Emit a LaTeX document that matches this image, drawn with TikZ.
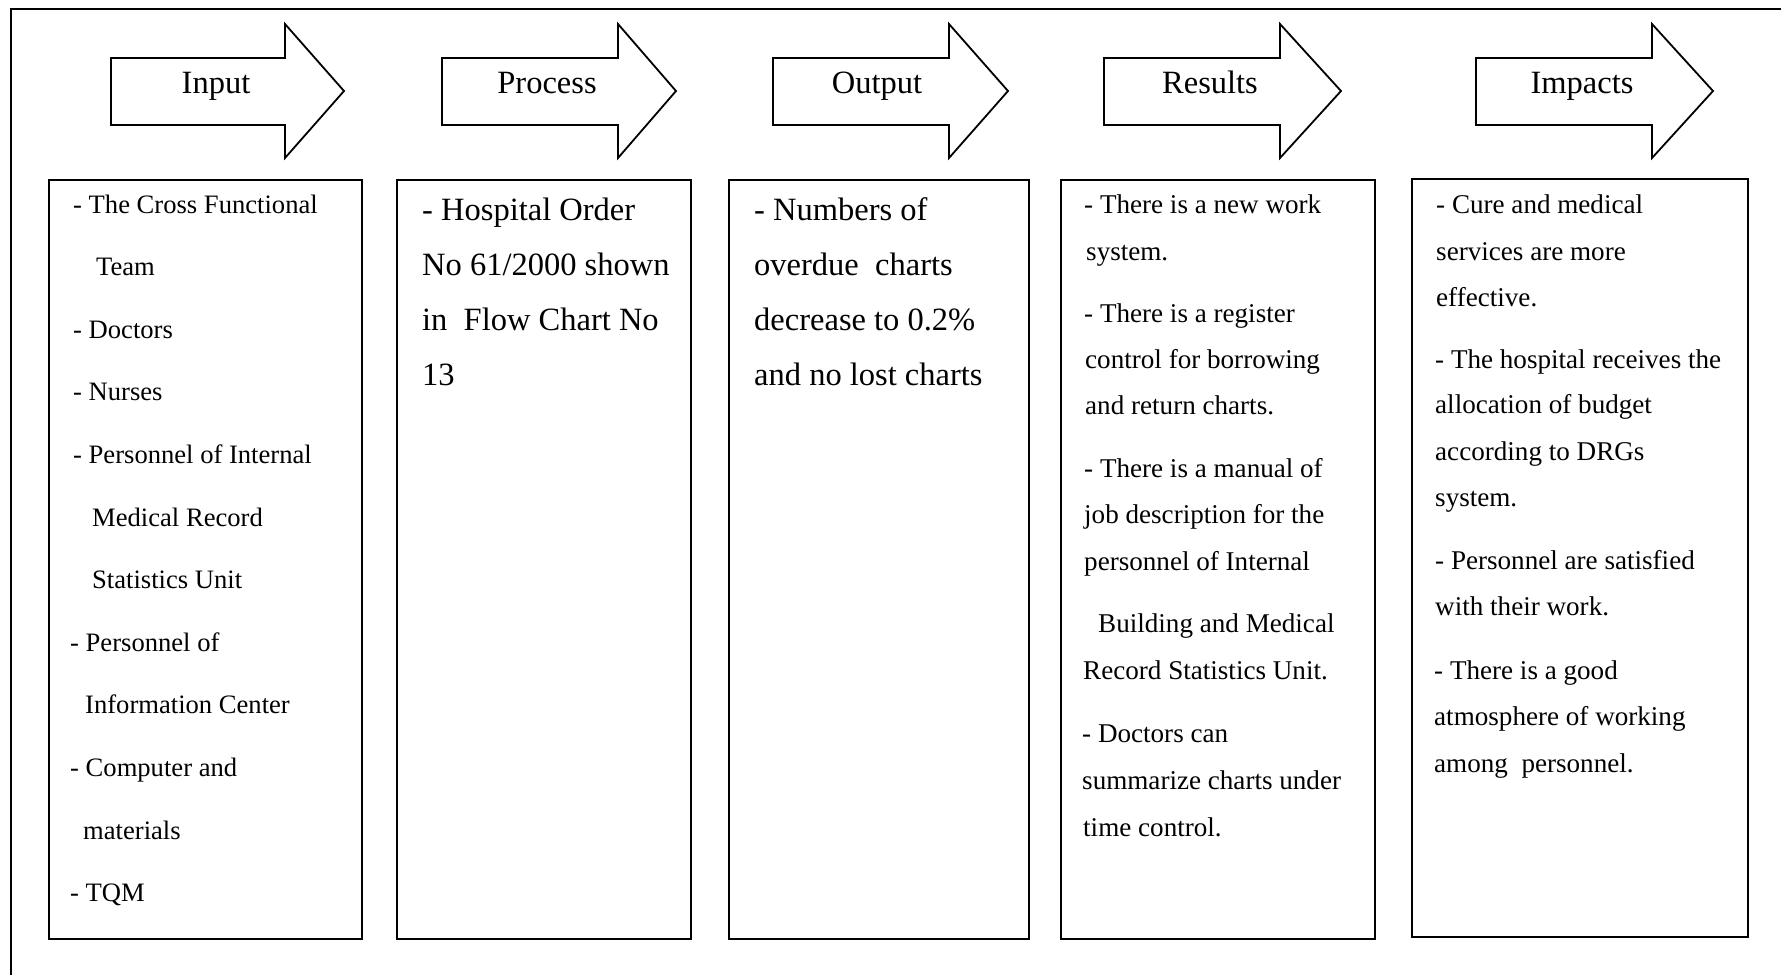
\documentclass[tikz,border=0pt]{standalone}
\usepackage{fontspec}
\setmainfont{Liberation Serif}
\begin{document}
\begin{tikzpicture}[x=1pt,y=-1pt,
  frameline/.style={draw=black,line width=1.6pt},
  arrowshape/.style={draw=black,line width=1.8pt,line join=miter},
  boxshape/.style={draw=black,line width=1.8pt,inner sep=0pt,anchor=north west},
  lbl/.style={font=\fontsize{32.5}{39}\selectfont,inner sep=0pt,anchor=base},
  tin/.style={font=\fontsize{26.6}{32}\selectfont,inner sep=0pt,anchor=base west},
  tbig/.style={font=\fontsize{32.5}{39}\selectfont,inner sep=0pt,anchor=base west},
  tres/.style={font=\fontsize{27.1}{32}\selectfont,inner sep=0pt,anchor=base west}]
\useasboundingbox (0,0) rectangle (1781,975);
% outer frame (open at right and bottom)
\coordinate (fTL) at (11,9);
\coordinate (fTR) at (1781,9);
\coordinate (fBL) at (11,975);
\draw[frameline] (fBL) -- (fTL) -- (fTR);
% arrows
\newcommand\flowarrow[5]{%
  \draw[arrowshape] (#1,58) -- (#2,58) -- (#2,24) -- (#3,91) -- (#2,158) -- (#2,125) -- (#1,125) -- cycle;
  \node[lbl] (#4) at (#5,93) {\expandafter\csname lbl#4\endcsname};}
\newcommand\lblinput{Input}
\newcommand\lblprocess{Process}
\newcommand\lbloutput{Output}
\newcommand\lblresults{Results}
\newcommand\lblimpacts{Impacts}
\flowarrow{111}{285}{344}{input}{216}
\flowarrow{442}{618}{676}{process}{547}
\flowarrow{773}{949}{1008}{output}{877}
\flowarrow{1104}{1280}{1341}{results}{1210}
\flowarrow{1476}{1652}{1713}{impacts}{1582}
% boxes
\node[boxshape,minimum width=313pt,minimum height=759pt] (b1) at (48,179) {};
\node[boxshape,minimum width=294pt,minimum height=759pt] (b2) at (396,179) {};
\node[boxshape,minimum width=300pt,minimum height=759pt] (b3) at (728,179) {};
\node[boxshape,minimum width=314pt,minimum height=759pt] (b4) at (1060,179) {};
\node[boxshape,minimum width=336pt,minimum height=758pt] (b5) at (1411,178) {};
% Input box text
\node[tin] (i1) at (73,213) {- The Cross Functional};
\node[tin] (i2) at (96,275.5) {Team};
\node[tin] (i3) at (73,338) {- Doctors};
\node[tin] (i4) at (73,400.7) {- Nurses};
\node[tin] (i5) at (73,463.3) {- Personnel of Internal};
\node[tin] (i6) at (92,526) {Medical Record};
\node[tin] (i7) at (92,588.6) {Statistics Unit};
\node[tin] (i8) at (70,651.2) {- Personnel of};
\node[tin] (i9) at (85,713.8) {Information Center};
\node[tin] (i10) at (70,776.4) {- Computer and};
\node[tin] (i11) at (83,839) {materials};
\node[tin] (i12) at (70,901.6) {- TQM};
% Process box text
\node[tbig] (p1) at (422,220) {- Hospital Order};
\node[tbig] (p2) at (422,275) {No 61/2000 shown};
\node[tbig] (p3) at (422,330) {in\ \ Flow Chart No};
\node[tbig] (p4) at (422,385) {13};
% Output box text
\node[tbig] (o1) at (754,220) {- Numbers of};
\node[tbig] (o2) at (754,275) {overdue\ \ charts};
\node[tbig] (o3) at (754,330) {decrease to 0.2\%};
\node[tbig] (o4) at (754,385) {and no lost charts};
% Results box text
\node[tres] (r1) at (1084,213.4) {- There is a new work};
\node[tres] (r2) at (1086,260) {system.};
\node[tres] (r3) at (1084,322.5) {- There is a register};
\node[tres] (r4) at (1085,368) {control for borrowing};
\node[tres] (r5) at (1085,414.5) {and return charts.};
\node[tres] (r6) at (1084,477) {- There is a manual of};
\node[tres] (r7) at (1084,523.5) {job description for the};
\node[tres] (r8) at (1084,570) {personnel of Internal};
\node[tres] (r9) at (1098,632.5) {Building and Medical};
\node[tres] (r10) at (1083,679) {Record Statistics Unit.};
\node[tres] (r11) at (1082,742.7) {- Doctors can};
\node[tres] (r12) at (1082,789.3) {summarize charts under};
\node[tres] (r13) at (1083,836) {time control.};
% Impacts box text
\node[tres] (m1) at (1436,213) {- Cure and medical};
\node[tres] (m2) at (1436,260) {services are more};
\node[tres] (m3) at (1436,306.6) {effective.};
\node[tres] (m4) at (1435,368) {- The hospital receives the};
\node[tres] (m5) at (1435,413.4) {allocation of budget};
\node[tres] (m6) at (1435,460) {according to DRGs};
\node[tres] (m7) at (1435,506.5) {system.};
\node[tres] (m8) at (1435,569) {- Personnel are satisfied};
\node[tres] (m9) at (1435,615.5) {with their work.};
\node[tres] (m10) at (1434,679) {- There is a good};
\node[tres] (m11) at (1434,725.7) {atmosphere of working};
\node[tres] (m12) at (1434,772.3) {among\ \ personnel.};
\end{tikzpicture}
\end{document}
